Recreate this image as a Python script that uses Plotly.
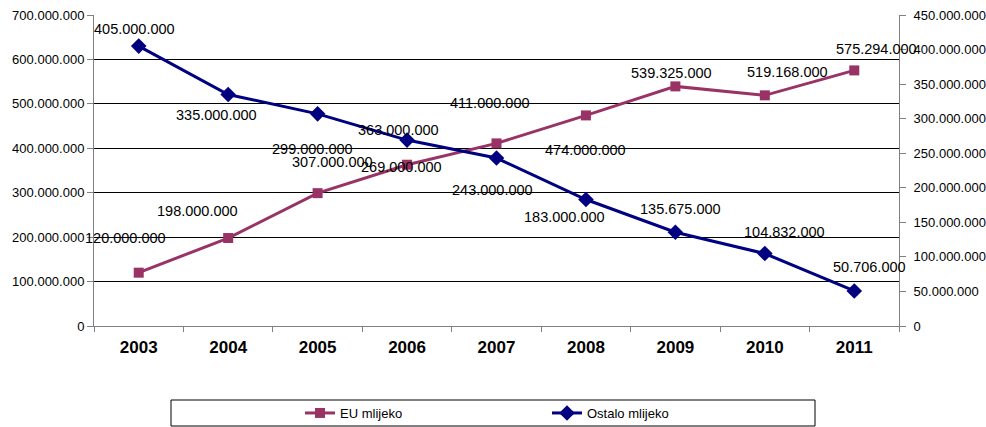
import plotly.graph_objects as go

years = ["2003", "2004", "2005", "2006", "2007", "2008", "2009", "2010", "2011"]
eu_mlijeko = [120000000, 198000000, 299000000, 363000000, 411000000, 474000000, 539325000, 519168000, 575294000]
ostalo_mlijeko = [405000000, 335000000, 307000000, 269000000, 243000000, 183000000, 135675000, 104832000, 50706000]

# label offsets in pixels (x, y-up)
eu_dx = [-13, -31, -5, -9, -7, 0, -4, 23, 22]
eu_dy = [35, 27, 44, 35, 40, -35, 13, 23, 21]
os_dx = [-4, -12, 15, -6, -4, -21, 5, 20, 15]
os_dy = [17, -21, -48, -27, -32, -17, 23, 22, 24]

EU_COL = "#993366"
OS_COL = "#000080"
FONT = "Liberation Sans, Arial, sans-serif"


def fmt(v):
    return f"{v:,}".replace(",", ".")


fig = go.Figure()
fig.add_trace(go.Scatter(
    x=years, y=eu_mlijeko, name="EU mlijeko", mode="lines+markers",
    line=dict(color=EU_COL, width=3),
    marker=dict(symbol="square", size=10, color=EU_COL),
    yaxis="y"))
fig.add_trace(go.Scatter(
    x=years, y=ostalo_mlijeko, name="Ostalo mlijeko", mode="lines+markers",
    line=dict(color=OS_COL, width=3),
    marker=dict(symbol="diamond", size=12, color=OS_COL),
    yaxis="y2"))

annotations = []
for i, yr in enumerate(years):
    annotations.append(dict(x=i, y=eu_mlijeko[i], xref="x", yref="y", text=fmt(eu_mlijeko[i]),
                            showarrow=False, xshift=eu_dx[i], yshift=eu_dy[i],
                            font=dict(family=FONT, size=14.5, color="#000")))
    annotations.append(dict(x=i, y=ostalo_mlijeko[i], xref="x", yref="y2", text=fmt(ostalo_mlijeko[i]),
                            showarrow=False, xshift=os_dx[i], yshift=os_dy[i],
                            font=dict(family=FONT, size=14.5, color="#000")))

fig.update_layout(
    width=986, height=427,
    margin=dict(l=94, r=87, t=15, b=101, autoexpand=False),
    paper_bgcolor="white", plot_bgcolor="white",
    separators=",.",
    font=dict(family=FONT, size=13, color="#000"),
    showlegend=True,
    legend=dict(orientation="h", x=(300 - 94) / 805, xanchor="left", y=(326 - 413) / 311, yanchor="middle",
                font=dict(family=FONT, size=13, color="#000"),
                entrywidth=202, entrywidthmode="pixels",
                bgcolor="rgba(0,0,0,0)", borderwidth=0),
    xaxis=dict(type="category", range=[-0.5, len(years) - 0.5], autorange=False,
               tickson="boundaries", ticks="outside", ticklen=5, tickangle=0,
               ticklabelstandoff=6,
               tickcolor="#808080", showline=True, linecolor="#808080", linewidth=1,
               showgrid=False, zeroline=False,
               tickfont=dict(family=FONT, size=17, color="#000", weight="bold")),
    yaxis=dict(range=[0, 700000000], dtick=100000000, tickformat=",d",
               ticks="outside", ticklen=6, tickcolor="#808080",
               showline=True, linecolor="#808080", linewidth=1,
               showgrid=True, gridcolor="#000000", gridwidth=1, zeroline=False,
               tickfont=dict(family=FONT, size=13, color="#000")),
    yaxis2=dict(range=[0, 450000000], dtick=50000000, tickformat=",d",
                overlaying="y", side="right",
                ticks="outside", ticklen=6, tickcolor="#808080",
                showline=True, linecolor="#808080", linewidth=1,
                showgrid=False, zeroline=False, ticklabelstandoff=5,
                tickfont=dict(family=FONT, size=13, color="#000")),
    annotations=annotations,
    shapes=[dict(type="rect", xref="paper", yref="paper",
                 x0=(171 - 94) / 805, x1=(815 - 94) / 805,
                 y0=(326 - 426) / 311, y1=(326 - 400) / 311,
                 line=dict(color="#000", width=1), fillcolor="rgba(0,0,0,0)")],
)

fig.write_html("out.html", config={"displayModeBar": False},
               post_script="document.body.style.margin='0';")
